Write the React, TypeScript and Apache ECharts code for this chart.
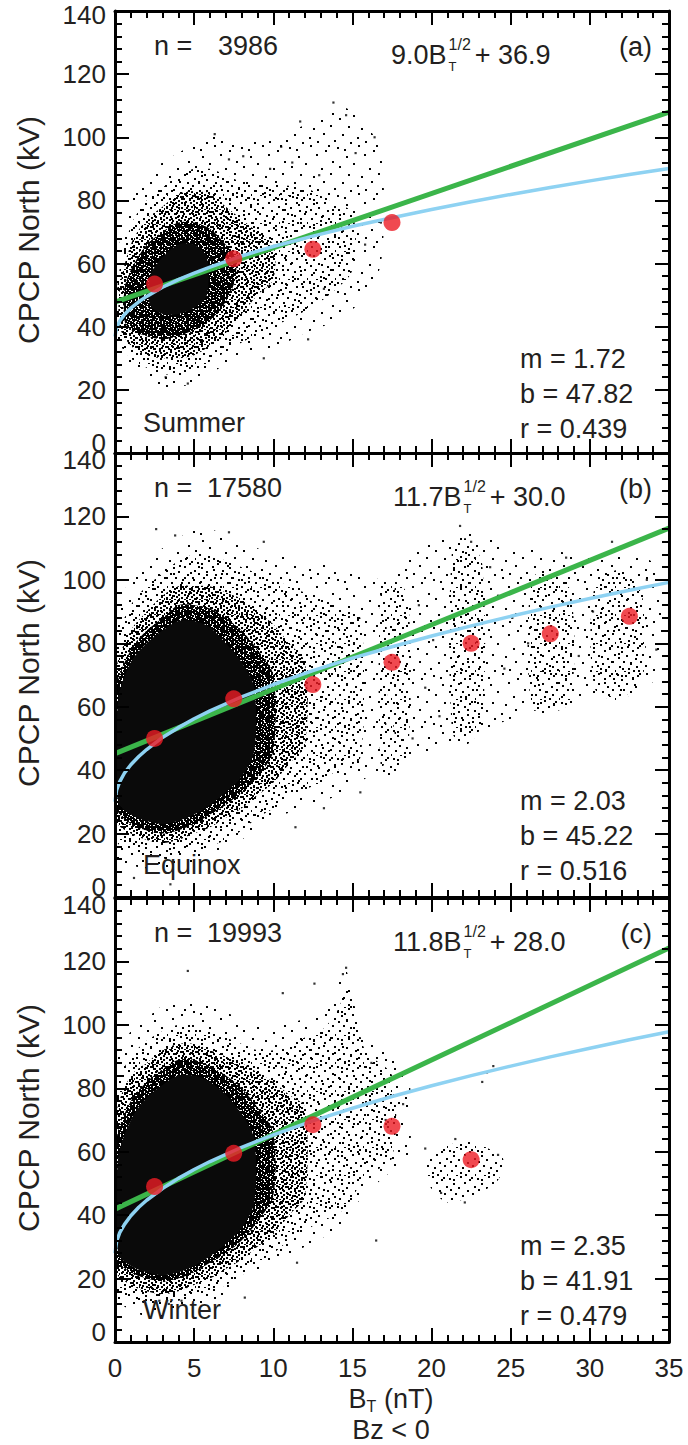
import React, { useEffect, useRef } from 'react';
import * as echarts from 'echarts';

const FONT = '"Liberation Sans", Arial, Helvetica, sans-serif';
const INK = '#231f20';

// ---- axes ----
const X_MIN = 0;
const X_MAX = 35;
const X_STEP = 5;
const Y_MIN = 0;
const Y_MAX = 140;
const Y_STEP = 20;

// ---- panel texts ----
const seasons = ['Summer', 'Equinox', 'Winter'];
const panelTags = ['(a)', '(b)', '(c)'];
const sampleCounts = ['3986', '17580', '19993'];
const fitSlopes = ['1.72', '2.03', '2.35'];
const fitIntercepts = ['47.82', '45.22', '41.91'];
const fitCorrelations = ['0.439', '0.516', '0.479'];
const sqrtCoefs = ['9.0', '11.7', '11.8'];
const sqrtOffsets = ['36.9', '30.0', '28.0'];

// ---- linear fits (green) ----
const linearFitA = [[0, 47.8], [35, 108.0]];
const linearFitB = [[0, 45.2], [35, 116.3]];
const linearFitC = [[0, 41.9], [35, 124.2]];

// ---- square-root fits (blue) ----
const curveX = [0, 0.1, 0.3, 0.6, 1, 1.5, 2, 3, 4, 5, 6, 8, 10, 12.5, 15, 17.5, 20, 22.5, 25, 27.5, 30, 32.5, 35];
const sqrtCurveA = [36.9, 39.7, 41.8, 43.9, 45.9, 47.9, 49.6, 52.5, 54.9, 57.0, 58.9, 62.4, 65.4, 68.7, 71.8, 74.5, 77.1, 79.6, 81.9, 84.1, 86.2, 88.2, 90.1];
const sqrtCurveB = [30.0, 33.7, 36.4, 39.1, 41.7, 44.3, 46.5, 50.3, 53.4, 56.2, 58.7, 63.1, 67.0, 71.4, 75.3, 78.9, 82.3, 85.5, 88.5, 91.4, 94.1, 96.7, 99.2];
const sqrtCurveC = [28.0, 31.7, 34.5, 37.1, 39.8, 42.5, 44.7, 48.4, 51.6, 54.4, 56.9, 61.4, 65.3, 69.7, 73.7, 77.4, 80.8, 84.0, 87.0, 89.9, 92.6, 95.3, 97.8];

// ---- bin means (red) ----
const binX = [2.5, 7.5, 12.5, 17.5, 22.5, 27.5, 32.5];
const binMeanA = [53.5, 61.5, 64.5, 73.0];
const binMeanB = [50.0, 62.5, 67.0, 74.0, 80.0, 83.0, 88.5];
const binMeanC = [49.0, 59.5, 68.5, 68.0, 57.5];

// ---- scatter cloud envelopes: [x, low, high] per density level (0 = densest) ----
const cloudA_L4 = [[0.1, 32, 60], [1, 26, 80], [2, 23, 88], [3, 21, 92], [4, 21, 95], [5, 22, 98], [6, 25, 101], [7, 28, 99], [8, 30, 98], [10, 33, 100], [12, 38, 104], [14, 42, 110], [15.5, 48, 106], [16.8, 60, 95]];
const cloudA_L3 = [[0.2, 36, 55], [1, 30, 72], [2, 27, 80], [3, 25, 84], [4, 25, 88], [5, 26, 90], [6, 29, 90], [7, 32, 88], [8, 35, 86], [10, 40, 85], [12, 45, 84], [13.5, 50, 80], [15, 58, 76]];
const cloudA_L2 = [[0.3, 40, 52], [1, 34, 66], [2, 31, 74], [3, 30, 78], [4, 30, 82], [5, 31, 83], [6, 34, 82], [7, 38, 78], [8, 44, 74], [9, 50, 70], [10, 55, 66]];
const cloudA_L1 = [[0.6, 42, 52], [1, 39, 58], [2, 37, 66], [3, 36, 70], [4, 37, 73], [5, 39, 73], [6, 42, 71], [7, 48, 66], [7.6, 55, 62]];
const cloudA_L0 = [[2.2, 47, 56], [3, 44, 62], [4, 44, 66], [5, 46, 66], [5.8, 50, 62]];

const cloudB_L4 = [[0.05, 12, 90], [1, 10, 100], [2, 9, 106], [3, 9, 110], [4, 10, 113], [5, 11, 116], [6, 13, 116], [7, 15, 114], [8, 18, 112], [9, 22, 110], [10, 25, 108], [12, 28, 106], [14, 32, 104], [16, 38, 100], [17, 42, 100]];
const cloudB_far = [[18, 45, 105], [22, 50, 115], [26, 58, 110], [30, 62, 108], [34, 68, 105]];
const cloudB_col1 = [[16.8, 40, 98], [17.5, 38, 100], [18.5, 45, 95]];
const cloudB_col2 = [[21.3, 52, 110], [22.2, 48, 113], [23.2, 55, 105]];
const cloudB_col3 = [[26.3, 60, 100], [27.5, 58, 103], [28.8, 62, 96]];
const cloudB_col4 = [[30.3, 66, 98], [31.8, 62, 103], [33.3, 68, 95]];
const cloudB_L3 = [[0.1, 18, 80], [1, 14, 92], [2, 13, 98], [3, 12, 102], [4, 13, 106], [5, 14, 108], [6, 16, 108], [7, 18, 106], [8, 21, 104], [9, 25, 102], [10, 28, 100], [11, 32, 98], [12, 34, 96], [13, 36, 95], [14, 40, 92], [15.5, 44, 88]];
const cloudB_L2 = [[0.1, 24, 72], [1, 20, 84], [2, 18, 90], [3, 17, 95], [4, 18, 98], [5, 20, 98], [6, 22, 98], [7, 25, 96], [8, 28, 94], [9, 32, 90], [10, 36, 86], [11, 42, 80], [12, 48, 74]];
const cloudB_L1 = [[0.1, 28, 66], [1, 23, 78], [2, 21, 84], [3, 20, 88], [4, 21, 92], [5, 23, 92], [6, 26, 91], [7, 29, 88], [8, 33, 84], [9, 38, 78], [10, 46, 70]];
const cloudB_L0 = [[0.2, 30, 62], [1, 26, 74], [2, 24, 80], [3, 23, 84], [4, 24, 87], [5, 26, 87], [6, 29, 85], [7, 33, 80], [8, 38, 74], [8.8, 46, 66]];

const cloudC_L4 = [[0.05, 14, 88], [1, 10, 98], [2, 8, 102], [3, 8, 106], [4, 9, 108], [5, 10, 108], [6, 12, 106], [7, 15, 104], [8, 18, 102], [9, 22, 100], [10, 25, 100], [12, 30, 102], [13.5, 34, 108], [14.5, 38, 118], [15.5, 45, 100], [17, 52, 92], [18.5, 58, 85]];
const cloudC_L3 = [[0.1, 18, 80], [1, 14, 90], [2, 12, 95], [3, 12, 98], [4, 13, 100], [5, 14, 100], [6, 16, 98], [7, 18, 96], [8, 21, 94], [9, 25, 92], [10, 28, 92], [11, 32, 94], [12, 35, 96], [13, 38, 98], [14, 40, 104], [14.8, 44, 112], [15.8, 52, 92], [17.5, 58, 84]];
const cloudC_cluster = [[19.8, 50, 58], [21, 44, 62], [22.5, 46, 63], [24, 50, 60], [24.5, 54, 58]];
const cloudC_L2 = [[0.1, 22, 72], [1, 18, 84], [2, 16, 88], [3, 15, 92], [4, 16, 94], [5, 18, 94], [6, 20, 92], [7, 23, 90], [8, 26, 88], [9, 30, 85], [10, 34, 82], [11, 40, 78], [12, 46, 74]];
const cloudC_L1 = [[0.1, 26, 64], [1, 22, 76], [2, 20, 82], [3, 19, 86], [4, 20, 89], [5, 22, 89], [6, 25, 87], [7, 28, 84], [8, 32, 80], [9, 38, 74], [10, 46, 66]];
const cloudC_L0 = [[0.2, 28, 58], [1, 24, 70], [2, 22, 77], [3, 21, 81], [4, 22, 84], [5, 24, 84], [6, 27, 82], [7, 31, 78], [8, 36, 72], [8.8, 44, 64]];

// ---- isolated points ----
const strayA = [[6.3, 101], [8.1, 94], [11.7, 105], [13.8, 111], [14.6, 107], [16.4, 100], [12.9, 88], [15.2, 95], [9.8, 90], [10.5, 97], [4.6, 22], [3.2, 24], [9.4, 30], [12.2, 36], [16.8, 73], [15.8, 66], [13.2, 52], [7.2, 93], [11.2, 92]];
const strayB = [[2.6, 116], [3.8, 114], [7.2, 115], [21.8, 117], [22.5, 112], [9.4, 112], [33.6, 100], [34.2, 78], [24.6, 72], [29.3, 76], [20.5, 57], [19.2, 92], [25.1, 88], [26.1, 80], [30.2, 90], [20.1, 81], [24.2, 95], [19.6, 66], [23.7, 104], [28.5, 107], [31.4, 112], [18.8, 50], [15.5, 33], [13.2, 28], [11.4, 22], [1.2, 6], [3.5, 4]];
const strayC = [[4.6, 117], [10.6, 110], [12.6, 113], [14.6, 118], [14.4, 116], [23.5, 85], [23.2, 82], [23.9, 87], [16.5, 32], [20.6, 47], [19.6, 61], [18.2, 75], [17.1, 70], [16.2, 88], [22.1, 44], [24.2, 59], [21.5, 64], [8.2, 14], [2.8, 13], [3.4, 12], [4.2, 13], [11.5, 25]];

// texture dot positions inside one pattern tile (unit square)
const DOT_UNITS = [[0.04, 0.08], [0.46, 0.03], [0.78, 0.14], [0.21, 0.26], [0.60, 0.22], [0.93, 0.36], [0.08, 0.47], [0.37, 0.41], [0.70, 0.50], [0.27, 0.63], [0.53, 0.68], [0.88, 0.62], [0.13, 0.80], [0.45, 0.86], [0.74, 0.79], [0.97, 0.93], [0.31, 0.97], [0.62, 0.94], [0.18, 0.12], [0.84, 0.04]];

const panelTop = [11, 453, 898];
const panelH = [442, 444, 444];
const GRID_LEFT = 115;
const GRID_W = 554;

function makePattern(tile: number, dot: number) {
  const c = document.createElement('canvas');
  c.width = tile;
  c.height = tile;
  const ctx = c.getContext('2d')!;
  ctx.fillStyle = '#000';
  for (const [u, v] of DOT_UNITS) {
    ctx.fillRect(Math.floor(u * tile), Math.floor(v * tile), dot, dot);
  }
  return { image: c, repeat: 'repeat', imageWidth: tile, imageHeight: tile };
}

export default function App() {
  const ref = useRef<HTMLDivElement>(null);
  useEffect(() => {
    const el = ref.current!;
    const chart = echarts.init(el, null, { renderer: 'svg' });

    const fills: any[] = ['#0a0a0a', makePattern(9, 2), makePattern(15, 2), makePattern(28, 2), makePattern(48, 2)];

    const mctx = document.createElement('canvas').getContext('2d')!;
    const tw = (s: string, size: number) => {
      mctx.font = `${size}px "Liberation Sans", Arial`;
      return mctx.measureText(s).width;
    };

    const cloudLayers = [
      [
        { level: 4, pts: cloudA_L4 }, { level: 3, pts: cloudA_L3 }, { level: 2, pts: cloudA_L2 },
        { level: 1, pts: cloudA_L1 }, { level: 0, pts: cloudA_L0 },
      ],
      [
        { level: 4, pts: cloudB_L4 }, { level: 4, pts: cloudB_far }, { level: 3, pts: cloudB_col1 },
        { level: 3, pts: cloudB_col2 }, { level: 3, pts: cloudB_col3 }, { level: 3, pts: cloudB_col4 },
        { level: 3, pts: cloudB_L3 }, { level: 2, pts: cloudB_L2 }, { level: 1, pts: cloudB_L1 },
        { level: 0, pts: cloudB_L0 },
      ],
      [
        { level: 4, pts: cloudC_L4 }, { level: 3, pts: cloudC_L3 }, { level: 3, pts: cloudC_cluster },
        { level: 2, pts: cloudC_L2 }, { level: 1, pts: cloudC_L1 }, { level: 0, pts: cloudC_L0 },
      ],
    ];
    const strays = [strayA, strayB, strayC];
    const linearFits = [linearFitA, linearFitB, linearFitC];
    const sqrtCurves = [sqrtCurveA, sqrtCurveB, sqrtCurveC];
    const binMeans = [binMeanA, binMeanB, binMeanC];

    const grids = panelTop.map((t, i) => ({ left: GRID_LEFT, width: GRID_W, top: t, height: panelH[i] }));

    const tickStyle = { color: '#000', width: 2 };
    const makeX = (gi: number, position: string, labels: boolean) => ({
      type: 'value', gridIndex: gi, position, min: X_MIN, max: X_MAX, interval: X_STEP, z: 10,
      axisLine: { show: true, onZero: false, lineStyle: { color: '#000', width: 3 } },
      axisTick: { show: true, inside: true, length: 14, lineStyle: tickStyle },
      minorTick: { show: true, splitNumber: 5, length: 7, lineStyle: tickStyle },
      splitLine: { show: false },
      axisLabel: { show: labels, fontSize: 26, fontFamily: FONT, color: INK, margin: 13 },
    });
    const makeY = (gi: number, position: string, labels: boolean) => {
      const topPad = gi === 0 ? 8 : 14;
      const base = { fontSize: 26, fontFamily: FONT, color: INK };
      return {
        type: 'value', gridIndex: gi, position, min: Y_MIN, max: Y_MAX, interval: Y_STEP, z: 10,
        axisLine: { show: true, onZero: false, lineStyle: { color: '#000', width: 3 } },
        axisTick: { show: true, inside: true, length: 14, lineStyle: tickStyle },
        minorTick: { show: true, splitNumber: 5, length: 7, lineStyle: tickStyle },
        splitLine: { show: false },
        axisLabel: {
          show: labels, margin: 9, ...base,
          formatter: (v: number) => (v === 0 ? '{z|0}' : v === 140 ? '{t|140}' : '{n|' + v + '}'),
          rich: {
            z: { ...base, padding: [0, 0, 20, 0] },
            t: { ...base, padding: [topPad, 0, 0, 0] },
            n: { ...base },
          },
        },
      };
    };

    const xAxes: any[] = [];
    const yAxes: any[] = [];
    for (let i = 0; i < 3; i++) {
      xAxes.push(makeX(i, 'bottom', i === 2));
      yAxes.push(makeY(i, 'left', true));
    }
    for (let i = 0; i < 3; i++) {
      xAxes.push(makeX(i, 'top', false));
      yAxes.push(makeY(i, 'right', false));
    }

    const series: any[] = [];
    for (let i = 0; i < 3; i++) {
      const layers = cloudLayers[i];
      series.push({
        type: 'custom', xAxisIndex: i, yAxisIndex: i, silent: true, clip: true, z: 1,
        data: layers.map((l, k) => [l.pts[0][0], l.pts[0][1], k]),
        renderItem: (params: any, api: any) => {
          const layer = layers[params.dataIndex];
          const top = layer.pts.map((p) => api.coord([p[0], p[2]]));
          const bot = layer.pts.slice().reverse().map((p) => api.coord([p[0], p[1]]));
          return {
            type: 'polygon',
            shape: { points: top.concat(bot), smooth: 0.3 },
            style: { fill: fills[layer.level], stroke: null },
          };
        },
      });
      series.push({
        type: 'scatter', xAxisIndex: i, yAxisIndex: i, silent: true, z: 1,
        symbol: 'rect', symbolSize: 2.2, itemStyle: { color: '#000' },
        data: strays[i],
      });
      series.push({
        type: 'line', xAxisIndex: i, yAxisIndex: i, silent: true, z: 3, symbol: 'none',
        lineStyle: { color: '#3bb54a', width: 5 }, data: linearFits[i],
      });
      series.push({
        type: 'line', xAxisIndex: i, yAxisIndex: i, silent: true, z: 4, symbol: 'none',
        lineStyle: { color: '#8ed2f2', width: 3.5 },
        data: curveX.map((x, k) => [x, sqrtCurves[i][k]]),
      });
      series.push({
        type: 'scatter', xAxisIndex: i, yAxisIndex: i, silent: true, z: 5,
        symbol: 'circle', symbolSize: 17, itemStyle: { color: '#ec1c24' },
        data: binMeans[i].map((v, k) => [binX[k], v]),
      });
    }

    const txt = (text: string, x: number, y: number, size: number, align = 'left', extra: any = {}) => ({
      type: 'text', x, y, z: 20, silent: true,
      style: {
        text, fontSize: size, fontFamily: FONT, fill: INK,
        textAlign: align, align, textVerticalAlign: 'middle', verticalAlign: 'middle',
      },
      ...extra,
    });

    const graphics: any[] = [];
    const offs = [0, 442, 887];
    for (let i = 0; i < 3; i++) {
      const o = offs[i];
      graphics.push(txt('n =', 154, 46 + o, 27));
      graphics.push(txt(sampleCounts[i], i === 0 ? 218 : 207, 46 + o, 27));
      const mainTxt = sqrtCoefs[i] + 'B';
      const eqX = i === 0 ? 391 : 393;
      const w1 = tw(mainTxt, 27);
      graphics.push(txt(mainTxt, eqX, 55 + o, 27));
      graphics.push(txt('1/2', eqX + w1 + 2, 44 + o, 16));
      graphics.push(txt('T', eqX + w1 + 2, 66 + o, 13));
      const w2 = tw('1/2', 16);
      graphics.push(txt('+ ' + sqrtOffsets[i], eqX + w1 + 2 + w2 + 4, 55 + o, 27));
      graphics.push(txt(panelTags[i], 652, 47 + o, 27, 'right'));
      graphics.push(txt('m = ' + fitSlopes[i], 520, 359 + o, 27));
      graphics.push(txt('b = ' + fitIntercepts[i], 520, 394 + o, 27));
      graphics.push(txt('r = ' + fitCorrelations[i], 520, 429 + o, 27));
      graphics.push(txt(seasons[i], 143, 423 + o, 27));
      graphics.push(txt('CPCP North (kV)', 28, (panelTop[i] + panelTop[i] + panelH[i]) / 2 - 2, 30, 'center', { rotation: Math.PI / 2 }));
    }
    // x-axis title
    const wB = tw('B', 27);
    const wT = tw('T', 16);
    const wRest = tw(' (nT)', 27);
    const total = wB + wT + wRest;
    const sx = 391 - total / 2;
    graphics.push(txt('B', sx, 1399, 27));
    graphics.push(txt('T', sx + wB, 1406, 16));
    graphics.push(txt(' (nT)', sx + wB + wT, 1399, 27));
    graphics.push(txt('Bz < 0', 391, 1430, 27, 'center'));

    chart.setOption({
      animation: false,
      backgroundColor: '#fff',
      grid: grids,
      xAxis: xAxes,
      yAxis: yAxes,
      series,
      graphic: graphics,
    });
    return () => chart.dispose();
  }, []);
  return <div ref={ref} style={{ position: 'absolute', left: 0, top: 0, width: 688, height: 1445, background: '#fff' }} />;
}
